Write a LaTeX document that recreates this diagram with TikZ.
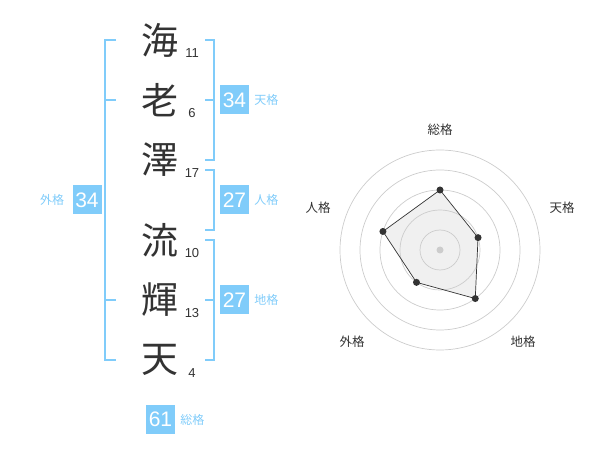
\documentclass[tikz,border=0pt]{standalone}
\usepackage{fontspec}
\setmainfont{Liberation Sans}
\newfontfamily\jpfont{Noto Sans CJK JP}
\usetikzlibrary{calc,positioning}
\definecolor{kakublue}{RGB}{128,204,250}
\definecolor{inkgray}{RGB}{51,51,51}
\definecolor{ringgray}{RGB}{204,204,204}

\begin{document}
\begin{tikzpicture}[x=1pt,y=-1pt]
	\tikzstyle{every node}+=[inner sep=0pt]
	\tikzstyle{kanji}=[text=inkgray,font=\jpfont\fontsize{37}{37}\selectfont]
	\tikzstyle{strokes}=[text=inkgray,font=\fontsize{13}{13}\selectfont]
	\tikzstyle{kakubox}=[fill=kakublue,text=white,minimum size=29pt,font=\fontsize{21}{21}\selectfont]
	\tikzstyle{kakuname}=[text=kakublue,font=\jpfont\fontsize{12}{12}\selectfont]
	\tikzstyle{bracket}=[draw=kakublue,line width=2pt]
	\tikzstyle{axisname}=[text=inkgray,font=\jpfont\fontsize{12.5}{12.5}\selectfont]
	\useasboundingbox (0,0) rectangle (600,470);
	% name and stroke counts
	\foreach \ch/\n/\y [count=\i] in {海/11/40, 老/6/100, 澤/17/160, 流/10/240, 輝/13/300, 天/4/360}{
		\node[kanji] (k\i) at (160,\y) {\ch};
		\node[strokes] (s\i) at (192,\y+13) {\n};
	}
	% brackets
	\draw[bracket] (116,40) -| (105,360) -- (116,360);
	\draw[bracket] (105,100) -- (116,100);
	\draw[bracket] (105,300) -- (116,300);
	\draw[bracket] (205,40) -| (214,160) -- (205,160);
	\draw[bracket] (205,100) -- (214,100);
	\draw[bracket] (205,170) -| (214,230) -- (205,230);
	\draw[bracket] (205,240) -| (214,360) -- (205,360);
	\draw[bracket] (205,300) -- (214,300);
	% totals
	\node[kakubox] (ten) at (234.5,100) {34};
	\node[kakuname, right=5pt of ten] (tenname) {天格};
	\node[kakubox] (jin) at (234.5,200) {27};
	\node[kakuname, right=5pt of jin] (jinname) {人格};
	\node[kakubox] (chi) at (234.5,300) {27};
	\node[kakuname, right=5pt of chi] (chiname) {地格};
	\node[kakubox] (gai) at (87,200) {34};
	\node[kakuname, left=8pt of gai] (gainame) {外格};
	\node[kakubox] (sou) at (160.5,419.5) {61};
	\node[kakuname, right=5pt of sou] (souname) {総格};
	% radar
	\coordinate (c) at (440,250);
	\foreach \a/\r/\lx/\ly/\name [count=\i] in {90/60/0/-120/総格, 18/40/122/-42/天格, -54/60/83/92/地格, -126/40/-88/92/外格, 162/60/-122/-42/人格}{
		\coordinate (p\i) at ($(c)+(\a:\r pt)$);
		\node[axisname] (ax\i) at ($(c)+(\lx,\ly)$) {\name};
	}
	\fill[black!6] (p1) -- (p2) -- (p3) -- (p4) -- (p5) -- cycle;
	\foreach \r in {20,40,60,80,100}
		\draw[ringgray,line width=0.7pt] (c) circle [radius=\r pt];
	\draw[inkgray,line width=0.7pt] (p1) -- (p2) -- (p3) -- (p4) -- (p5) -- cycle;
	\fill[ringgray] (c) circle [radius=3.5pt];
	\foreach \i in {1,...,5}
		\fill[inkgray] (p\i) circle [radius=3.5pt];
\end{tikzpicture}
\end{document}
